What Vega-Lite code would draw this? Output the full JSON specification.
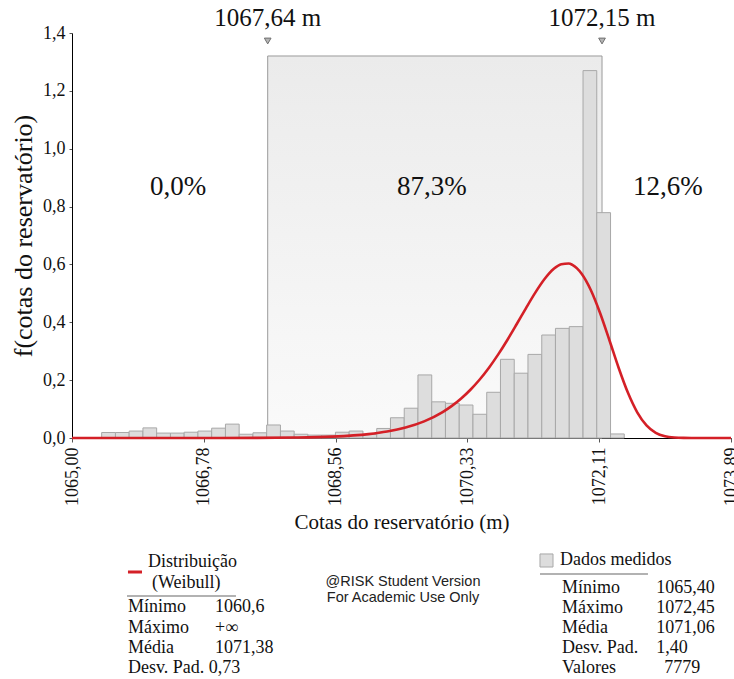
{
  "$schema": "https://vega.github.io/schema/vega-lite/v6.json",
  "width": 659,
  "height": 405,
  "autosize": {"type": "none"},
  "padding": {"left": 72, "top": 33, "right": 3, "bottom": 241},
  "background": "white",
  "config": {"view": {"stroke": null}, "font": "Liberation Serif"},
  "datasets": {
    "bins": [
      {"x0": 1065.400, "x1": 1065.586, "density": 0.019},
      {"x0": 1065.586, "x1": 1065.771, "density": 0.019},
      {"x0": 1065.771, "x1": 1065.957, "density": 0.024},
      {"x0": 1065.957, "x1": 1066.142, "density": 0.035},
      {"x0": 1066.142, "x1": 1066.328, "density": 0.017},
      {"x0": 1066.328, "x1": 1066.513, "density": 0.017},
      {"x0": 1066.513, "x1": 1066.699, "density": 0.020},
      {"x0": 1066.699, "x1": 1066.884, "density": 0.024},
      {"x0": 1066.884, "x1": 1067.070, "density": 0.034},
      {"x0": 1067.070, "x1": 1067.255, "density": 0.048},
      {"x0": 1067.255, "x1": 1067.441, "density": 0.013},
      {"x0": 1067.441, "x1": 1067.626, "density": 0.018},
      {"x0": 1067.626, "x1": 1067.812, "density": 0.045},
      {"x0": 1067.812, "x1": 1067.997, "density": 0.024},
      {"x0": 1067.997, "x1": 1068.183, "density": 0.013},
      {"x0": 1068.183, "x1": 1068.368, "density": 0.010},
      {"x0": 1068.368, "x1": 1068.554, "density": 0.010},
      {"x0": 1068.554, "x1": 1068.739, "density": 0.020},
      {"x0": 1068.739, "x1": 1068.925, "density": 0.024},
      {"x0": 1068.925, "x1": 1069.111, "density": 0.012},
      {"x0": 1069.111, "x1": 1069.296, "density": 0.033},
      {"x0": 1069.296, "x1": 1069.482, "density": 0.070},
      {"x0": 1069.482, "x1": 1069.667, "density": 0.103},
      {"x0": 1069.667, "x1": 1069.853, "density": 0.218},
      {"x0": 1069.853, "x1": 1070.038, "density": 0.125},
      {"x0": 1070.038, "x1": 1070.224, "density": 0.120},
      {"x0": 1070.224, "x1": 1070.409, "density": 0.114},
      {"x0": 1070.409, "x1": 1070.595, "density": 0.082},
      {"x0": 1070.595, "x1": 1070.780, "density": 0.158},
      {"x0": 1070.780, "x1": 1070.966, "density": 0.272},
      {"x0": 1070.966, "x1": 1071.151, "density": 0.224},
      {"x0": 1071.151, "x1": 1071.337, "density": 0.289},
      {"x0": 1071.337, "x1": 1071.522, "density": 0.356},
      {"x0": 1071.522, "x1": 1071.708, "density": 0.379},
      {"x0": 1071.708, "x1": 1071.894, "density": 0.385},
      {"x0": 1071.894, "x1": 1072.079, "density": 1.270},
      {"x0": 1072.079, "x1": 1072.265, "density": 0.779},
      {"x0": 1072.265, "x1": 1072.450, "density": 0.014}
    ],
    "curve": [
      {"x": 1065.0, "f": 0},
      {"x": 1066.0, "f": 0},
      {"x": 1067.0, "f": 0.0001},
      {"x": 1067.5, "f": 0.0005},
      {"x": 1068.0, "f": 0.0015},
      {"x": 1068.5, "f": 0.0047},
      {"x": 1069.0, "f": 0.0135},
      {"x": 1069.25, "f": 0.0223},
      {"x": 1069.5, "f": 0.0361},
      {"x": 1069.75, "f": 0.0574},
      {"x": 1070.0, "f": 0.0895},
      {"x": 1070.125, "f": 0.1109},
      {"x": 1070.25, "f": 0.1365},
      {"x": 1070.375, "f": 0.1668},
      {"x": 1070.5, "f": 0.2023},
      {"x": 1070.625, "f": 0.2431},
      {"x": 1070.75, "f": 0.2891},
      {"x": 1070.875, "f": 0.3398},
      {"x": 1071.0, "f": 0.394},
      {"x": 1071.125, "f": 0.4492},
      {"x": 1071.25, "f": 0.5024},
      {"x": 1071.375, "f": 0.5494},
      {"x": 1071.5, "f": 0.5848},
      {"x": 1071.6, "f": 0.6009},
      {"x": 1071.7, "f": 0.6032},
      {"x": 1071.75, "f": 0.5985},
      {"x": 1071.875, "f": 0.5679},
      {"x": 1072.0, "f": 0.5109},
      {"x": 1072.125, "f": 0.4314},
      {"x": 1072.25, "f": 0.338},
      {"x": 1072.375, "f": 0.242},
      {"x": 1072.5, "f": 0.1561},
      {"x": 1072.625, "f": 0.0888},
      {"x": 1072.75, "f": 0.0437},
      {"x": 1072.875, "f": 0.018},
      {"x": 1073.0, "f": 0.0061},
      {"x": 1073.125, "f": 0.0016},
      {"x": 1073.25, "f": 0.0003},
      {"x": 1073.5, "f": 0},
      {"x": 1073.89, "f": 0}
    ],
    "box": [{"x0": 1067.64, "x1": 1072.15, "bottom": 0, "top": 1.3205}],
    "markers": [
      {"x": 1067.64, "y": 1.3723, "ylab": 1.4518, "label": "1067,64 m"},
      {"x": 1072.15, "y": 1.3723, "ylab": 1.4518, "label": "1072,15 m"}
    ],
    "pct": [
      {"x": 1066.43, "y": 0.8676, "label": "0,0%"},
      {"x": 1069.856, "y": 0.8676, "label": "87,3%"},
      {"x": 1073.04, "y": 0.8676, "label": "12,6%"}
    ],
    "legendText": [
      {"x": 1066.025, "y": -0.4286, "text": "Distribuição"},
      {"x": 1066.079, "y": -0.5012, "text": "(Weibull)"},
      {"x": 1065.755, "y": -0.5842, "text": "Mínimo"},
      {"x": 1066.929, "y": -0.5842, "text": "1060,6"},
      {"x": 1065.755, "y": -0.6568, "text": "Máximo"},
      {"x": 1066.929, "y": -0.6568, "text": "+∞"},
      {"x": 1065.755, "y": -0.7259, "text": "Média"},
      {"x": 1066.929, "y": -0.7259, "text": "1071,38"},
      {"x": 1065.755, "y": -0.7950, "text": "Desv. Pad. 0,73"},
      {"x": 1071.583, "y": -0.4217, "text": "Dados medidos"},
      {"x": 1071.61, "y": -0.5185, "text": "Mínimo"},
      {"x": 1072.882, "y": -0.5185, "text": "1065,40"},
      {"x": 1071.61, "y": -0.5876, "text": "Máximo"},
      {"x": 1072.882, "y": -0.5876, "text": "1072,45"},
      {"x": 1071.61, "y": -0.6568, "text": "Média"},
      {"x": 1072.882, "y": -0.6568, "text": "1071,06"},
      {"x": 1071.61, "y": -0.7259, "text": "Desv. Pad."},
      {"x": 1072.882, "y": -0.7259, "text": "1,40"},
      {"x": 1071.61, "y": -0.7950, "text": "Valores"},
      {"x": 1072.99, "y": -0.7950, "text": "7779"}
    ],
    "watermark": [
      {"x": 1069.465, "y": -0.4995, "text": "@RISK Student Version"},
      {"x": 1069.465, "y": -0.5515, "text": "For Academic Use Only"}
    ],
    "legendLines": [
      {"x0": 1065.742, "x1": 1067.212, "y": -0.5462},
      {"x0": 1071.313, "x1": 1072.77, "y": -0.4701}
    ],
    "redDash": [{"x0": 1065.755, "x1": 1065.944, "y": -0.4632}],
    "square": [{"x": 1071.401, "y": -0.4234}]
  },
  "layer": [
    {
      "data": {"name": "box"},
      "mark": {
        "type": "rect",
        "fill": {"gradient": "linear", "x1": 0, "y1": 0, "x2": 0, "y2": 1,
          "stops": [{"offset": 0, "color": "#ebebeb"}, {"offset": 1, "color": "#fafafa"}]},
        "stroke": "#9a9a9a",
        "strokeWidth": 1
      },
      "encoding": {
        "x": {"field": "x0", "type": "quantitative",
          "scale": {"domain": [1065, 1073.89], "nice": false, "zero": false},
          "axis": {
            "title": "Cotas do reservatório (m)",
            "values": [1065, 1066.778, 1068.556, 1070.334, 1072.112, 1073.89],
            "labelExpr": "replace(format(datum.value, '.2f'), '.', ',')",
            "labelAngle": -90,
            "labelFont": "Liberation Serif",
            "labelFontSize": 18,
            "labelColor": "#111",
            "labelPadding": 5,
            "labelFlush": false,
            "labelOverlap": false,
            "titleFont": "Liberation Serif",
            "titleFontSize": 21,
            "titleFontWeight": "normal",
            "titleColor": "#111",
            "titlePadding": 6,
            "grid": false,
            "domainColor": "#000",
            "tickColor": "#555",
            "tickSize": 4
          }
        },
        "x2": {"field": "x1"},
        "y": {"field": "bottom", "type": "quantitative",
          "scale": {"domain": [0, 1.4], "nice": false},
          "axis": {
            "title": "f(cotas do reservatório)",
            "values": [0, 0.2, 0.4, 0.6, 0.8, 1.0, 1.2, 1.4],
            "labelExpr": "replace(format(datum.value, '.1f'), '.', ',')",
            "labelFont": "Liberation Serif",
            "labelFontSize": 18,
            "labelColor": "#111",
            "labelPadding": 4,
            "titleFont": "Liberation Serif",
            "titleFontSize": 26,
            "titleFontWeight": "normal",
            "titleColor": "#111",
            "titlePadding": 6,
            "grid": false,
            "domainColor": "#000",
            "tickColor": "#555",
            "tickSize": 3
          }
        },
        "y2": {"field": "top"}
      }
    },
    {
      "data": {"name": "bins"},
      "mark": {"type": "rect", "fill": "#dddddd", "stroke": "#a8a8a8", "strokeWidth": 1},
      "encoding": {
        "x": {"field": "x0", "type": "quantitative"},
        "x2": {"field": "x1"},
        "y": {"field": "density", "type": "quantitative"},
        "y2": {"datum": 0}
      }
    },
    {
      "data": {"name": "curve"},
      "mark": {"type": "line", "color": "#d42027", "strokeWidth": 2.6, "interpolate": "monotone"},
      "encoding": {
        "x": {"field": "x", "type": "quantitative"},
        "y": {"field": "f", "type": "quantitative"}
      }
    },
    {
      "data": {"name": "markers"},
      "mark": {"type": "point", "shape": "triangle-down", "filled": true, "size": 45, "fill": "#b5b5b5", "stroke": "#707070", "strokeWidth": 1, "opacity": 1},
      "encoding": {
        "x": {"field": "x", "type": "quantitative"},
        "y": {"field": "y", "type": "quantitative"}
      }
    },
    {
      "data": {"name": "markers"},
      "mark": {"type": "text", "font": "Liberation Serif", "fontSize": 25, "color": "#111", "baseline": "middle", "align": "center"},
      "encoding": {
        "x": {"field": "x", "type": "quantitative"},
        "y": {"field": "ylab", "type": "quantitative"},
        "text": {"field": "label"}
      }
    },
    {
      "data": {"name": "pct"},
      "mark": {"type": "text", "font": "Liberation Serif", "fontSize": 27, "color": "#111", "baseline": "middle", "align": "center"},
      "encoding": {
        "x": {"field": "x", "type": "quantitative"},
        "y": {"field": "y", "type": "quantitative"},
        "text": {"field": "label"}
      }
    },
    {
      "data": {"name": "legendLines"},
      "mark": {"type": "rule", "color": "#999", "strokeWidth": 1.5},
      "encoding": {
        "x": {"field": "x0", "type": "quantitative"},
        "x2": {"field": "x1"},
        "y": {"field": "y", "type": "quantitative"}
      }
    },
    {
      "data": {"name": "redDash"},
      "mark": {"type": "rule", "color": "#d42027", "strokeWidth": 3},
      "encoding": {
        "x": {"field": "x0", "type": "quantitative"},
        "x2": {"field": "x1"},
        "y": {"field": "y", "type": "quantitative"}
      }
    },
    {
      "data": {"name": "square"},
      "mark": {"type": "point", "shape": "square", "filled": true, "size": 170, "fill": "#dddddd", "stroke": "#a8a8a8", "strokeWidth": 1, "opacity": 1},
      "encoding": {
        "x": {"field": "x", "type": "quantitative"},
        "y": {"field": "y", "type": "quantitative"}
      }
    },
    {
      "data": {"name": "legendText"},
      "mark": {"type": "text", "font": "Liberation Serif", "fontSize": 18, "color": "#111", "baseline": "middle", "align": "left"},
      "encoding": {
        "x": {"field": "x", "type": "quantitative"},
        "y": {"field": "y", "type": "quantitative"},
        "text": {"field": "text"}
      }
    },
    {
      "data": {"name": "watermark"},
      "mark": {"type": "text", "font": "Liberation Sans", "fontSize": 14.5, "color": "#222", "baseline": "middle", "align": "center"},
      "encoding": {
        "x": {"field": "x", "type": "quantitative"},
        "y": {"field": "y", "type": "quantitative"},
        "text": {"field": "text"}
      }
    }
  ]
}
